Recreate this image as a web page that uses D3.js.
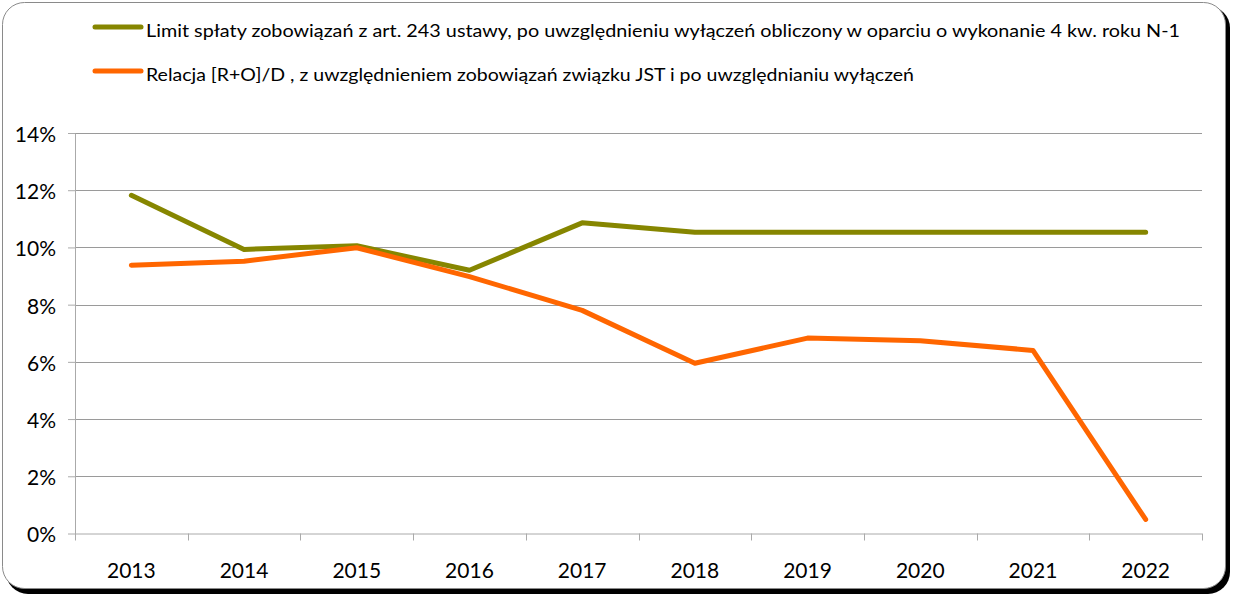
<!DOCTYPE html>
<html><head><meta charset="utf-8">
<script src="https://cdn.jsdelivr.net/npm/d3@7"></script>
<style>body{margin:0;background:#fff}svg{display:block}</style>
</head><body>
<svg id="c" width="1233" height="596"></svg>
<script>
const years = ["2013","2014","2015","2016","2017","2018","2019","2020","2021","2022"];
const limitSeries = [11.82, 9.93, 10.06, 9.2, 10.86, 10.53, 10.53, 10.53, 10.53, 10.53];
const relacjaSeries = [9.38, 9.52, 9.99, 8.98, 7.8, 5.95, 6.83, 6.74, 6.4, 0.49];
const yTicks = [0, 2, 4, 6, 8, 10, 12, 14];
const legendLabels = [
  "Limit spłaty zobowiązań z art. 243 ustawy, po uwzględnieniu wyłączeń obliczony w oparciu o wykonanie 4 kw. roku N-1",
  "Relacja [R+O]/D , z uwzględnieniem zobowiązań związku JST i po uwzględnianiu wyłączeń"
];
const colors = ["#868600", "#FF6600"];

(function(){
const svg = d3.select("#c");
const font = "Lato, 'Open Sans', sans-serif";

// frame with shadow
svg.append("rect").attr("x",6).attr("y",6).attr("width",1224).attr("height",588).attr("rx",22).attr("fill","#000");
svg.append("rect").attr("x",2.5).attr("y",2.5).attr("width",1223).attr("height",586).attr("rx",22)
  .attr("fill","#fff").attr("stroke","#8a8a8a").attr("stroke-width",1);

const pl = 75, pr = 1202, pt = 133, pb = 533.5;
const x = d3.scaleBand().domain(years).range([pl, pr]);
const y = d3.scaleLinear().domain([0, 14]).range([pb, pt]);

// gridlines
svg.append("g").selectAll("line").data(yTicks.filter(d=>d>0)).join("line")
  .attr("x1", pl).attr("x2", pr).attr("y1", d=>Math.round(y(d))+0.5).attr("y2", d=>Math.round(y(d))+0.5)
  .attr("stroke", "#9a9a9a").attr("stroke-width", 1);

// y axis
const yAxis = svg.append("g").attr("transform", `translate(${pl},0)`)
  .call(d3.axisLeft(y).tickValues(yTicks).tickFormat(d => d + "%").tickSize(7).tickSizeOuter(0));
yAxis.select(".domain").attr("stroke", "#aaa");
yAxis.selectAll(".tick line").attr("stroke", "#aaa");
yAxis.selectAll(".tick text").attr("font-family", font).attr("font-size", 21).attr("fill", "#000")
  .attr("x", -19).attr("dy", "0.4em");

// x axis
const xAxis = svg.append("g").attr("transform", `translate(0,${pb})`)
  .call(d3.axisBottom(x).tickSize(0).tickSizeOuter(0));
xAxis.select(".domain").attr("stroke", "#aaa").attr("d", `M${pl},0.5H${pr}`);
xAxis.selectAll(".tick text").attr("font-family", font).attr("font-size", 21).attr("fill", "#000").attr("y", 30).attr("dy", "0.71em");
const bounds = years.map(d => x(d)).concat([pr]);
svg.append("g").selectAll("line").data(bounds).join("line")
  .attr("x1", d=>Math.round(d)+0.5).attr("x2", d=>Math.round(d)+0.5).attr("y1", pb).attr("y2", pb+7)
  .attr("stroke", "#aaa");

// lines
const line = d3.line().x((d,i) => x(years[i]) + x.bandwidth()/2).y(d => y(d));
[limitSeries, relacjaSeries].forEach((s, i) => {
  svg.append("path").datum(s).attr("d", line).attr("fill", "none")
    .attr("stroke", colors[i]).attr("stroke-width", 5).attr("stroke-linecap", "round").attr("stroke-linejoin", "round");
});

// legend
const legY = [27, 71];
const legW = [1034, 768];
legendLabels.forEach((t, i) => {
  svg.append("line").attr("x1", 95).attr("x2", 141).attr("y1", legY[i]).attr("y2", legY[i])
    .attr("stroke", colors[i]).attr("stroke-width", 5).attr("stroke-linecap", "round");
  svg.append("text").attr("x", 146).attr("y", legY[i] + 10).attr("font-family", font).attr("font-size", 18)
    .attr("fill", "#000").attr("textLength", legW[i]).attr("lengthAdjust", "spacingAndGlyphs").text(t);
});
})();
</script>
</body></html>
